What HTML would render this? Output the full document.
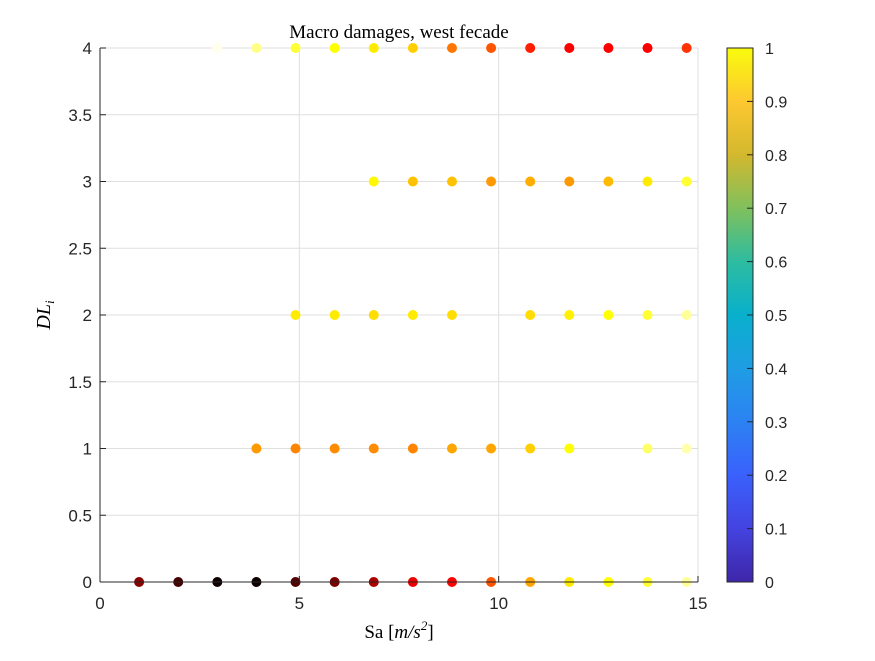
<!DOCTYPE html>
<html><head><meta charset="utf-8"><style>
body{margin:0;background:#fff;width:875px;height:656px;overflow:hidden}
svg text{font-family:"Liberation Sans",sans-serif;}
</style></head><body>
<svg id="chart" width="875" height="656">
<rect width="875" height="656" fill="#fff"/>
<defs><linearGradient id="parula" x1="0" y1="1" x2="0" y2="0">
<stop offset="0" stop-color="#3e26a8"/><stop offset="0.1" stop-color="#4443e0"/>
<stop offset="0.2" stop-color="#3a61fd"/><stop offset="0.3" stop-color="#2c82f2"/>
<stop offset="0.4" stop-color="#1f9de4"/><stop offset="0.5" stop-color="#09b0cc"/>
<stop offset="0.6" stop-color="#2dbca0"/><stop offset="0.7" stop-color="#80c05c"/>
<stop offset="0.8" stop-color="#d3b82e"/><stop offset="0.9" stop-color="#fdc830"/>
<stop offset="1" stop-color="#f9fb0e"/></linearGradient></defs>
<g id="grid"></g>
<g id="marks"></g>
<g id="axes"></g>
<text x="399" y="38" font-size="19" text-anchor="middle" style='font-family:"Liberation Serif",serif'>Macro damages, west fecade</text>
<text x="399" y="638" font-size="19" text-anchor="middle" style='font-family:"Liberation Serif",serif'>Sa [<tspan font-style="italic">m/s</tspan><tspan font-size="13" dy="-8" font-style="italic">2</tspan><tspan dy="8">]</tspan></text>
<text transform="translate(50,315) rotate(-90)" font-size="20" text-anchor="middle" style='font-family:"Liberation Serif",serif' font-style="italic">DL<tspan font-size="13" dy="4">i</tspan></text>
<rect x="727" y="48" width="26" height="534" fill="url(#parula)" stroke="#262626" stroke-width="1"/>
<g id="cbticks"></g>
</svg>
<script>
const xTicks=[0,5,10,15];
const yTicks=[0,0.5,1,1.5,2,2.5,3,3.5,4];
const cbTicks=[0,0.1,0.2,0.3,0.4,0.5,0.6,0.7,0.8,0.9,1];
const sa=[0.981,1.962,2.943,3.924,4.905,5.886,6.867,7.848,8.829,9.81,10.791,11.772,12.753,13.734,14.715];
const dl0=[0.2,0.1,0.02,0.02,0.12,0.18,0.25,0.35,0.38,0.5,0.62,0.72,0.75,0.8,0.9];
const dl1=[null,null,null,0.6,0.57,0.58,0.58,0.57,0.62,0.62,0.68,0.75,null,0.85,0.92];
const dl2=[null,null,null,null,0.72,0.72,0.7,0.72,0.7,null,0.7,0.73,0.75,0.8,0.9];
const dl3=[null,null,null,null,null,null,0.74,0.66,0.66,0.6,0.63,0.6,0.65,0.72,0.8];
const dl4=[null,null,0.98,0.88,0.8,0.75,0.72,0.68,0.55,0.5,0.42,0.37,0.37,0.37,0.45];
const levels=[0,1,2,3,4];
const NS='http://www.w3.org/2000/svg';
const X0=100,X1=698,Y0=582,Y1=48;
const xs=v=>X0+v/15*(X1-X0);
const ys=v=>Y0-v/4*(Y0-Y1);
const cs=v=>582-v*534;
function hot(t){const c=x=>Math.max(0,Math.min(1,x));
 const r=c(t/0.375),g=c((t-0.375)/0.375),b=c((t-0.75)/0.25);
 return `rgb(${Math.round(r*255)},${Math.round(g*255)},${Math.round(b*255)})`;}
function mk(tag,attrs,parent){const e=document.createElementNS(NS,tag);for(const k in attrs)e.setAttribute(k,attrs[k]);parent.appendChild(e);return e;}
const grid=document.getElementById('grid'),axes=document.getElementById('axes'),marks=document.getElementById('marks'),cb=document.getElementById('cbticks');
xTicks.forEach(v=>{
 const l=mk('line',{x1:xs(v),x2:xs(v),y1:Y1,y2:Y0,stroke:'#dfdfdf','stroke-width':1},grid);
 
 
 mk('line',{x1:xs(v),x2:xs(v),y1:Y0,y2:Y0-6,stroke:'#262626'},axes);
 const t=mk('text',{x:xs(v),y:Y0+27,'font-size':17,'text-anchor':'middle',fill:'#262626'},axes);t.textContent=v;
 
 
});
yTicks.forEach(v=>{
 const l=mk('line',{x1:X0,x2:X1,y1:ys(v),y2:ys(v),stroke:'#dfdfdf','stroke-width':1},grid);
 
 
 mk('line',{x1:X0,x2:X0+6,y1:ys(v),y2:ys(v),stroke:'#262626'},axes);
 const t=mk('text',{x:X0-8,y:ys(v)+6,'font-size':17,'text-anchor':'end',fill:'#262626'},axes);t.textContent=v;
 
 
});
mk('line',{x1:X0,x2:X1,y1:Y0,y2:Y0,stroke:'#262626'},axes);
mk('line',{x1:X0,x2:X0,y1:Y1,y2:Y0,stroke:'#262626'},axes);
[dl0,dl1,dl2,dl3,dl4].forEach((ser,li)=>{
 ser.forEach((c,i)=>{ if(c===null)return;
  const p=mk('circle',{cx:xs(sa[i]),cy:ys(levels[li]),r:5,fill:hot(c)},marks);
  
  
 });
});
cbTicks.forEach(v=>{
 mk('line',{x1:747,x2:753,y1:cs(v),y2:cs(v),stroke:'#262626'},cb);
 const t=mk('text',{x:765,y:cs(v)+6,'font-size':16,fill:'#262626'},cb);t.textContent=v;
 
 
});
</script>
</body></html>
